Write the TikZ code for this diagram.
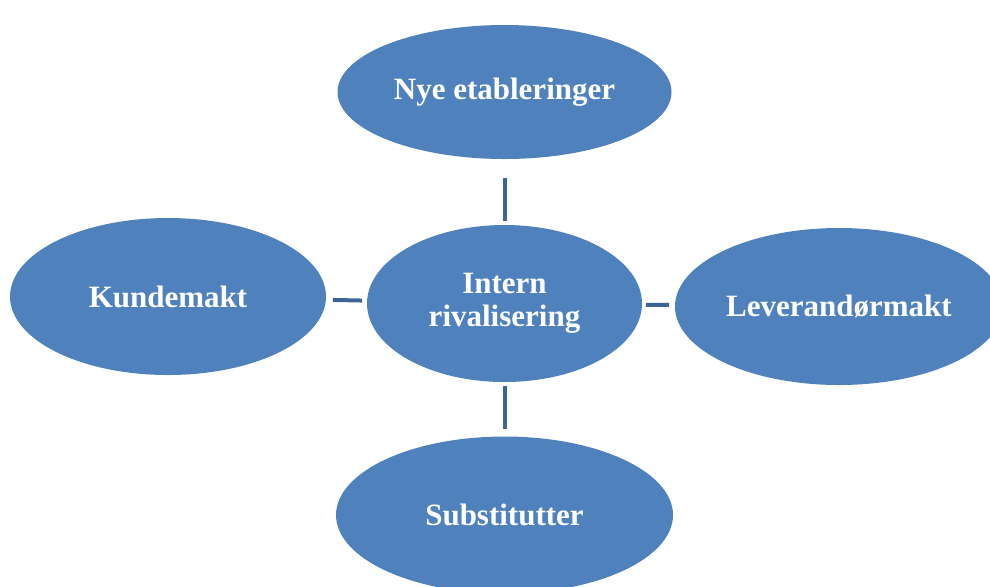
\documentclass[tikz,border=0pt]{standalone}
\usepackage{fontspec}
\setmainfont{Liberation Serif}
\usepackage{tikz}
\usetikzlibrary{positioning,shapes}
\definecolor{forceblue}{HTML}{4F81BD}
\definecolor{linkblue}{HTML}{3E6598}

\begin{document}
\begin{tikzpicture}
[-, node distance=105.75pt, line width=2pt,
every node/.style={ellipse, fill=forceblue, inner sep=0pt, text=white,
  font=\fontsize{15.5pt}{16.5pt}\selectfont\bfseries, align=center},
link/.style={draw=linkblue}
]
  \useasboundingbox (0,0) rectangle (495pt,-293pt);
  \node[minimum width=137.5pt, minimum height=78.5pt] (rival) at (252.25pt,-151.75pt) {Intern\\rivalisering};
  \node[minimum width=167pt, minimum height=67pt]     (nye)   [above of=rival]                 {Nye etableringer};
  \node[minimum width=168.5pt, minimum height=78.5pt] (subst) [below of=rival]                 {Substitutter};
  \node[minimum width=158pt, minimum height=78.5pt]   (kunde) [left of=rival, node distance=168.25pt, yshift=3.5pt] {Kundemakt};
  \node[minimum width=164pt, minimum height=78.5pt]   (lever) [right of=rival, node distance=167.25pt, yshift=-1.5pt] {Leverandørmakt};

  \path
    (rival) edge [link, shorten <=1pt, shorten >=8.5pt]   (nye)
    (rival) edge [link, shorten <=1pt, shorten >=3pt]     (subst)
    (rival) edge [link, shorten <=1.5pt, shorten >=2.5pt] (kunde)
    (rival) edge [link, shorten <=1pt, shorten >=2pt]     (lever)
    ;
\end{tikzpicture}
\end{document}
